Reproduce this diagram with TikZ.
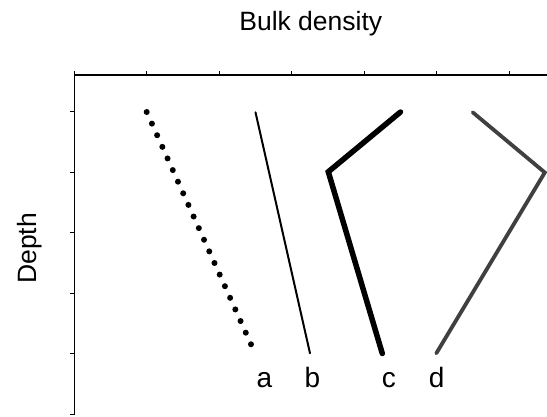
\documentclass[tikz,border=0pt]{standalone}
\usepackage{fontspec}
\setmainfont{Liberation Sans}
\begin{document}
\begin{tikzpicture}[x=1pt,y=-1pt,
  lbl/.style={font=\fontsize{26.5}{31}\selectfont, inner sep=0pt, anchor=base},
  curvelbl/.style={font=\fontsize{28}{32}\selectfont, inner sep=0pt, anchor=base},
  axisline/.style={line width=1pt, black},
  topaxis/.style={line width=1.4pt, black},
  tickmark/.style={line width=0.9pt, black},
  curvea/.style={line width=6pt, line cap=round, dash pattern=on 0pt off 12.73pt},
  curveb/.style={line width=2pt, line cap=round},
  curvec/.style={line width=5.5pt, line cap=round, line join=miter},
  curved/.style={line width=3.8pt, line cap=round, line join=miter, draw={rgb,255:red,64;green,64;blue,64}}]
\useasboundingbox (0,0) rectangle (547,416);
% axes
\coordinate (O) at (74.5,75);
\coordinate (TR) at (547,75);
\coordinate (BL) at (74.5,415);
\draw[topaxis] (O) -- (TR);
\draw[axisline] (O) ++(0,-4.5) -- (BL);
\foreach \x in {146.7,219.2,291.7,364.1,436.6,509.0}
  \draw[tickmark] (\x,75) -- (\x,70.5);
\foreach \y in {111.7,172.2,232.8,293.3,353.8,414.3}
  \draw[tickmark] (74.5,\y) -- (70,\y);
% titles
\node[lbl] (title) at (310.8,30.7) {Bulk density};
\node[lbl, rotate=90] (ylab) at (36.5,248.3) {Depth};
% curve a
\coordinate (a1) at (146.7,112);
\coordinate (a2) at (251,344.3);
\draw[curvea] (a1) -- (a2);
% curve b
\coordinate (b1) at (255.5,112.3);
\coordinate (b2) at (310,353.3);
\draw[curveb] (b1) -- (b2);
% curve c
\coordinate (c1) at (400.5,112);
\coordinate (c2) at (328.3,171.8);
\coordinate (c3) at (382.3,353.5);
\draw[curvec] (c1) -- (c2) -- (c3);
% curve d
\coordinate (d1) at (472.7,112.3);
\coordinate (d2) at (544.8,172.5);
\coordinate (d3) at (436.3,353.3);
\draw[curved] (d1) -- (d2) -- (d3);
% labels
\node[curvelbl] (la) at (264.5,387) {a};
\node[curvelbl] (lb) at (312.5,387) {b};
\node[curvelbl] (lc) at (388.8,387) {c};
\node[curvelbl] (ld) at (436.7,387) {d};
\end{tikzpicture}
\end{document}
